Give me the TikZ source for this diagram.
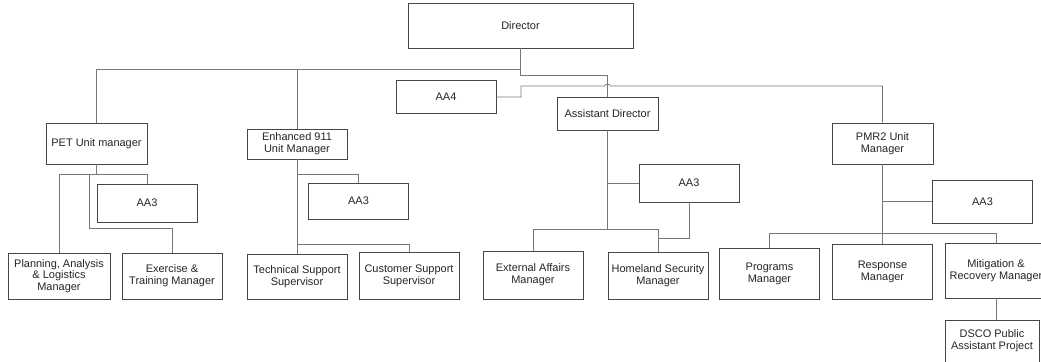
\documentclass[tikz,border=0pt]{standalone}
\usepackage{fontspec}
\setmainfont{Liberation Sans}
\usepackage{tikz}
\usetikzlibrary{positioning, calc}
\definecolor{boxgray}{RGB}{70, 70, 70}
\definecolor{wiregray}{RGB}{120, 120, 120}

\begin{document}
\begin{tikzpicture}[
  x=0.025cm, y=-0.025cm,
  box/.style = {
    draw=boxgray, fill=white, line width=0.6pt,
    minimum width=2.5cm, minimum height=1.15cm, inner sep=1pt,
    align=center, text=black!85,
    font=\fontsize{7.8}{8.4}\selectfont
  },
  wire/.style = { draw=wiregray, line width=0.5pt }
]
\useasboundingbox (0,0) rectangle (1041,362);

% top level
\node[box, minimum width=5.625cm, minimum height=1.125cm] (dir) at (520.5,25.5) {Director};
\node[box, minimum height=0.825cm] (aa4)  at (446,97)     {AA4};
\node[box, minimum width=2.525cm, minimum height=1.025cm] (pet)  at (96.5,143.5) {PET Unit manager};
\node[box, minimum height=0.75cm]  (e911) at (297,144)    {Enhanced 911\\Unit Manager};
\node[box, minimum width=2.525cm, minimum height=0.825cm] (asst) at (607.5,113.5) {Assistant Director};
\node[box, minimum width=2.525cm, minimum height=1.025cm] (pmr)  at (882.5,143.5) {PMR2 Unit\\Manager};

% assistants
\node[box, minimum height=0.95cm]  (aa3pet)  at (147,203)    {AA3};
\node[box, minimum height=0.9cm]   (aa3e)    at (358.5,201)  {AA3};
\node[box, minimum height=0.95cm]  (aa3asst) at (689,183)    {AA3};
\node[box, minimum height=1.075cm] (aa3pmr)  at (982.5,201.5) {AA3};

% bottom row
\node[box, minimum width=2.55cm] (plan)  at (59,276)      {Planning, Analysis\\\& Logistics\\Manager};
\node[box]                       (exer)  at (172,276)     {Exercise \&\\Training Manager};
\node[box, minimum height=1.125cm] (tech) at (297,276.5)  {Technical Support\\Supervisor};
\node[box, minimum height=1.175cm] (cust) at (409,275.5)  {Customer Support\\Supervisor};
\node[box, minimum height=1.2cm]   (ext)  at (533,275)    {External Affairs\\Manager};
\node[box, minimum height=1.175cm] (home) at (658,275.5)  {Homeland Security\\Manager};
\node[box, minimum height=1.275cm] (prog) at (769.5,273.5) {Programs\\Manager};
\node[box, minimum height=1.375cm] (resp) at (882.5,271.5) {Response\\Manager};
\node[box, minimum width=2.55cm, minimum height=1.375cm] (mitig) at (996,270.5) {Mitigation \&\\Recovery Manager};
\node[box, minimum width=2.35cm, minimum height=1.05cm]  (dsco)  at (992,341)   {DSCO Public\\Assistant Project};

% director links
\draw[wire] (dir.south) |- (pet.north |- 0,69) -- (pet.north);
\draw[wire] (e911.north) -- (e911.north |- 0,69);
\draw[wire] (dir.south |- 0,69) -- (dir.south |- 0,75) -| (asst.north);
\draw[wire] (aa4.east) -| (521,86) -- (604.5,86) to[out=90,in=90] (610.5,86) -| (pmr.north);

% PET unit
\draw[wire] (pet.south) -- (pet.south |- 0,174) -| (plan.north);
\draw[wire] (pet.south |- 0,174) -| (aa3pet.north);
\draw[wire] (89,174) |- (exer.north |- 0,228) -- (exer.north);

% Enhanced 911
\draw[wire] (e911.south) -- (tech.north);
\draw[wire] (e911.south |- 0,174) -| (aa3e.north);
\draw[wire] (e911.south |- 0,244) -| (cust.north);

% Assistant Director
\draw[wire] (asst.south) -- (asst.south |- 0,229);
\draw[wire] (asst.south |- aa3asst.west) -- (aa3asst.west);
\draw[wire] (ext.north) |- (home.north |- 0,229) -- (home.north);
\draw[wire] (aa3asst.south) |- (home.north |- 0,238);

% PMR2 unit
\draw[wire] (pmr.south) -- (resp.north);
\draw[wire] (pmr.south |- aa3pmr.west) -- (aa3pmr.west);
\draw[wire] (prog.north) |- (mitig.north |- 0,233) -- (mitig.north);
\draw[wire] (mitig.south |- dsco.north) -- (mitig.south);

\end{tikzpicture}
\end{document}
